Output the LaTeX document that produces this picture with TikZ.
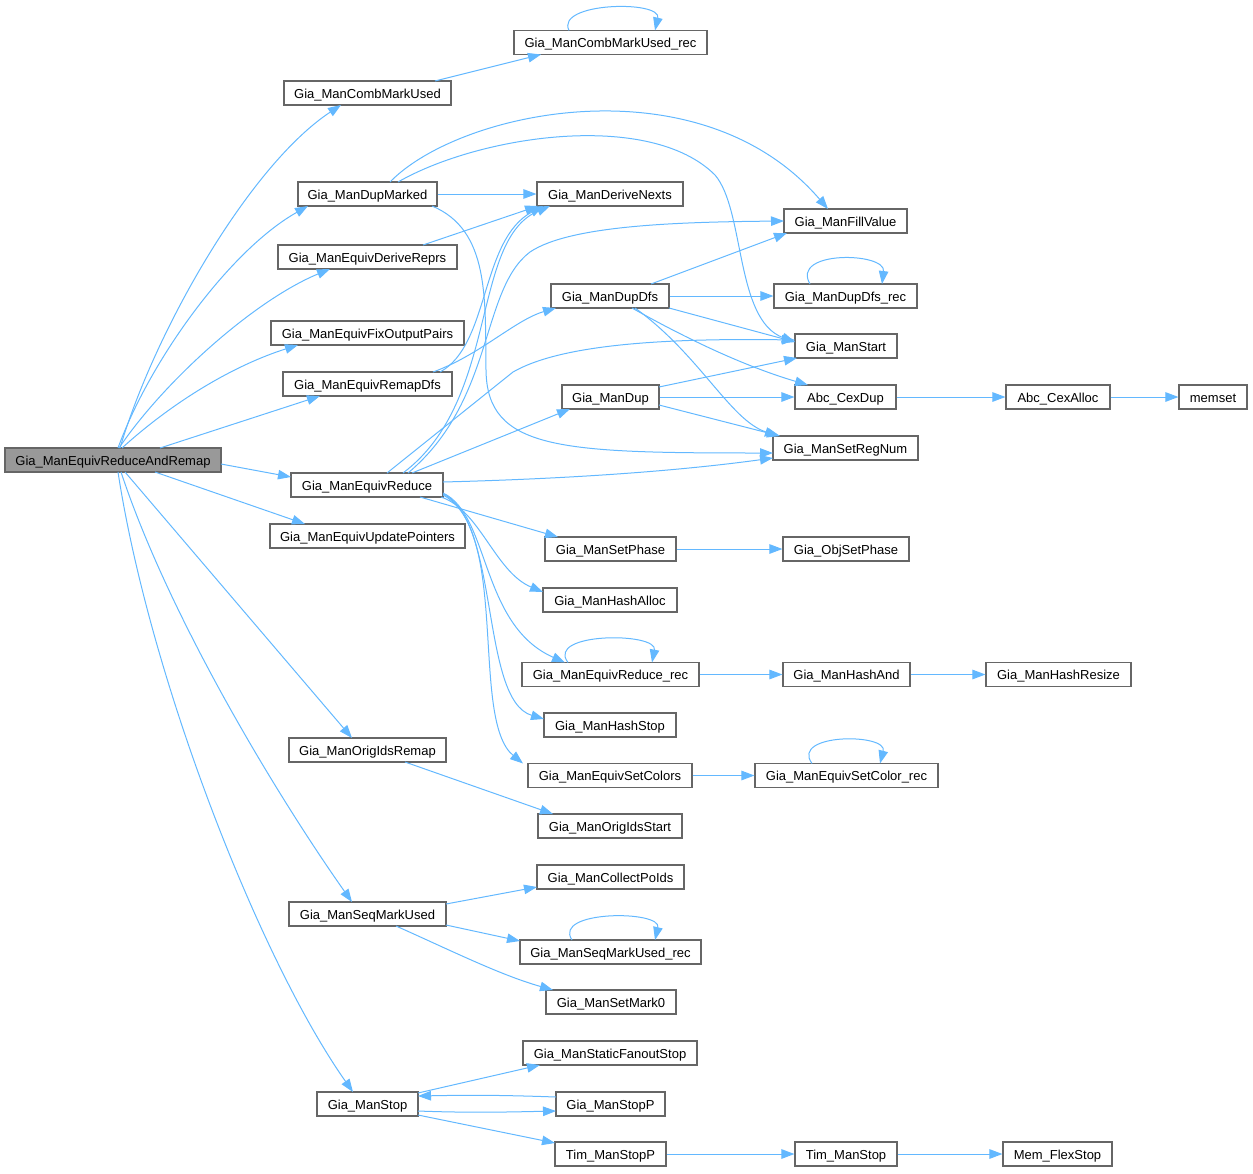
\documentclass[tikz,border=0pt]{standalone}
\usepackage{fontspec}
\setmainfont{Liberation Sans}
\usetikzlibrary{arrows.meta,calc}
\definecolor{eblue}{HTML}{63B8FF}
\definecolor{bord}{HTML}{666666}
\definecolor{rootfill}{HTML}{999999}
\begin{document}
\begin{tikzpicture}[x=1pt,y=-1pt,
  nd/.style={draw=bord,fill=white,line width=1.1pt,inner sep=0pt,minimum height=24pt,text height=10.5pt,text depth=0pt,font=\fontsize{13}{15}\selectfont},
  ln/.style={draw=eblue,line width=1pt,-{Triangle[length=13pt,width=9.5pt]}}]
\useasboundingbox (0,0) rectangle (1253,1173);
\node[nd,fill=rootfill,minimum width=216] (root) at (113,460) {Gia\_ManEquivReduceAndRemap};
\node[nd,minimum width=167] (cmu) at (367.5,93) {Gia\_ManCombMarkUsed};
\node[nd,minimum width=193] (cmurec) at (610.5,42.5) {Gia\_ManCombMarkUsed\_rec};
\node[nd,minimum width=139] (dupm) at (367.5,194) {Gia\_ManDupMarked};
\node[nd,minimum width=146] (dnx) at (610,194) {Gia\_ManDeriveNexts};
\node[nd,minimum width=123] (fill) at (845.5,221) {Gia\_ManFillValue};
\node[nd,minimum width=179] (edr) at (367.5,257) {Gia\_ManEquivDeriveReprs};
\node[nd,minimum width=118] (dupdfs) at (610,296) {Gia\_ManDupDfs};
\node[nd,minimum width=143] (dfsrec) at (845.5,296) {Gia\_ManDupDfs\_rec};
\node[nd,minimum width=193] (fop) at (367.5,333) {Gia\_ManEquivFixOutputPairs};
\node[nd,minimum width=102] (start) at (846,346) {Gia\_ManStart};
\node[nd,minimum width=169] (rdfs) at (367.5,384) {Gia\_ManEquivRemapDfs};
\node[nd,minimum width=97] (dup) at (610.5,397) {Gia\_ManDup};
\node[nd,minimum width=101] (cexdup) at (845.5,397) {Abc\_CexDup};
\node[nd,minimum width=104] (cexalloc) at (1058,397) {Abc\_CexAlloc};
\node[nd,minimum width=68] (memset) at (1213,397) {memset};
\node[nd,minimum width=145] (setreg) at (845.5,448) {Gia\_ManSetRegNum};
\node[nd,minimum width=152] (ered) at (367,485) {Gia\_ManEquivReduce};
\node[nd,minimum width=195] (upd) at (367.5,536) {Gia\_ManEquivUpdatePointers};
\node[nd,minimum width=131] (setph) at (610.5,549) {Gia\_ManSetPhase};
\node[nd,minimum width=126] (objph) at (846,549) {Gia\_ObjSetPhase};
\node[nd,minimum width=134] (halloc) at (610,600) {Gia\_ManHashAlloc};
\node[nd,minimum width=177] (erec) at (610.5,674.5) {Gia\_ManEquivReduce\_rec};
\node[nd,minimum width=127] (hand) at (846.5,674.5) {Gia\_ManHashAnd};
\node[nd,minimum width=145] (hres) at (1058.5,674.5) {Gia\_ManHashResize};
\node[nd,minimum width=132] (hstop) at (610,725) {Gia\_ManHashStop};
\node[nd,minimum width=164] (scol) at (610,775.5) {Gia\_ManEquivSetColors};
\node[nd,minimum width=183] (scolrec) at (846.5,775.5) {Gia\_ManEquivSetColor\_rec};
\node[nd,minimum width=157] (oir) at (367.5,750) {Gia\_ManOrigIdsRemap};
\node[nd,minimum width=144] (ois) at (610,826) {Gia\_ManOrigIdsStart};
\node[nd,minimum width=147] (cpo) at (610.5,877) {Gia\_ManCollectPoIds};
\node[nd,minimum width=157] (smu) at (367.5,914) {Gia\_ManSeqMarkUsed};
\node[nd,minimum width=181] (smurec) at (610.5,952) {Gia\_ManSeqMarkUsed\_rec};
\node[nd,minimum width=130] (mark0) at (611,1002) {Gia\_ManSetMark0};
\node[nd,minimum width=174] (sfs) at (610,1053) {Gia\_ManStaticFanoutStop};
\node[nd,minimum width=101] (stop) at (367.5,1104) {Gia\_ManStop};
\node[nd,minimum width=109] (stopp) at (610.5,1104) {Gia\_ManStopP};
\node[nd,minimum width=111] (timstopp) at (610.5,1154) {Tim\_ManStopP};
\node[nd,minimum width=102] (timstop) at (846,1154) {Tim\_ManStop};
\node[nd,minimum width=109] (memflex) at (1057.5,1154) {Mem\_FlexStop};
% root edges
\path[ln] ($(root)+(7,-12)$) .. controls (155,330) and (250,165) .. ($(cmu)+(-26.5,12)$);
\path[ln] ($(root)+(5,-12)$) .. controls (150,360) and (230,250) .. ($(dupm)+(-59.5,12)$);
\path[ln] ($(root)+(6,-12)$) .. controls (165,380) and (255,300) .. ($(edr)+(-37.5,12)$);
\path[ln] ($(root)+(9,-12)$) .. controls (175,400) and (235,365) .. ($(fop)+(-69.5,12)$);
\path[ln] ($(root)+(47,-12)$) -- ($(rdfs)+(-47.5,12)$);
\path[ln] ($(root)+(108,4)$) -- ($(ered)+(-76,-8)$);
\path[ln] ($(root)+(42,12)$) -- ($(upd)+(-62.5,-12)$);
\path[ln] ($(root)+(12,12)$) -- ($(oir)+(-15.5,-12)$);
\path[ln] ($(root)+(8,12)$) .. controls (170,620) and (280,800) .. ($(smu)+(-15.5,-12)$);
\path[ln] ($(root)+(5,12)$) .. controls (150,680) and (260,960) .. ($(stop)+(-14.5,-12)$);
% cmu
\path[ln] ($(cmu)+(67.5,-12)$) -- ($(cmurec)+(-69.5,12)$);
\path[ln] ($(cmurec)+(-41.5,-12)$) .. controls (555,2) and (662,0) .. ($(cmurec)+(44.5,-12)$);
% dupm
\path[ln] (dupm) -- (dnx);
\path[ln] ($(dupm)+(22.5,-12)$) .. controls (460,110) and (700,60) .. ($(fill)+(-17.5,-12)$);
\path[ln] ($(dupm)+(30.5,-12)$) .. controls (480,135) and (650,110) .. (715,175) .. controls (745,210) and (735,320) .. ($(start)+(-51,-4)$);
\path[ln] ($(dupm)+(64.5,12)$) .. controls (490,230) and (485,300) .. (486,370) .. controls (487,450) and (560,453) .. ($(setreg)+(-72.5,5)$);
% edr, rdfs
\path[ln] ($(edr)+(55.5,-12)$) -- ($(dnx)+(-72,12)$);
\path[ln] ($(rdfs)+(72.5,-12)$) .. controls (490,345) and (480,240) .. ($(dnx)+(-67,12)$);
\path[ln] ($(rdfs)+(65.5,-12)$) .. controls (480,355) and (515,320) .. ($(dupdfs)+(-54,12)$);
% ered
\path[ln] ($(ered)+(20,-12)$) -- (513,372) .. controls (560,345) and (660,338) .. ($(start)+(-51,-6)$);
\path[ln] ($(ered)+(36,-12)$) .. controls (500,400) and (470,240) .. ($(dnx)+(-60,12)$);
\path[ln] ($(ered)+(41,-12)$) .. controls (495,400) and (480,290) .. (530,252) .. controls (570,225) and (680,222) .. ($(fill)+(-61.5,0)$);
\path[ln] ($(ered)+(45,-12)$) -- ($(dup)+(-40.5,12)$);
\path[ln] ($(ered)+(76,-3)$) .. controls (600,478) and (700,468) .. ($(setreg)+(-72.5,10)$);
\path[ln] ($(ered)+(53,12)$) -- ($(setph)+(-52.5,-12)$);
\path[ln] ($(ered)+(74,12)$) .. controls (480,510) and (495,572) .. ($(halloc)+(-67,-8)$);
\path[ln] ($(ered)+(76,8)$) .. controls (490,515) and (480,625) .. ($(erec)+(-45.5,-12)$);
\path[ln] ($(ered)+(76,9)$) .. controls (500,520) and (480,700) .. ($(hstop)+(-66,-6)$);
\path[ln] ($(ered)+(76,10)$) .. controls (510,530) and (470,720) .. ($(scol)+(-87,-12)$);
% dupdfs
\path[ln] ($(dupdfs)+(41,-12)$) -- ($(fill)+(-58.5,12)$);
\path[ln] (dupdfs) -- (dfsrec);
\path[ln] ($(dfsrec)+(-35.5,-12)$) .. controls (790,250) and (886,252) .. ($(dfsrec)+(36.5,-12)$);
\path[ln] ($(dupdfs)+(59,12)$) -- ($(start)+(-51,-4)$);
\path[ln] ($(dupdfs)+(22,12)$) .. controls (680,335) and (740,365) .. ($(cexdup)+(-37.5,-12)$);
\path[ln] ($(dupdfs)+(25,12)$) .. controls (700,355) and (730,420) .. ($(setreg)+(-67.5,-12)$);
% dup
\path[ln] ($(dup)+(48.5,-10)$) -- ($(start)+(-49,12)$);
\path[ln] (dup) -- (cexdup);
\path[ln] ($(dup)+(48.5,8)$) -- ($(setreg)+(-65.5,-12)$);
\path[ln] (cexdup) -- (cexalloc);
\path[ln] (cexalloc) -- (memset);
% lower
\path[ln] (setph) -- (objph);
\path[ln] (erec) -- (hand);
\path[ln] (hand) -- (hres);
\path[ln] ($(erec)+(-42.5,-12)$) .. controls (545,632) and (658,632) .. ($(erec)+(41.5,-12)$);
\path[ln] (scol) -- (scolrec);
\path[ln] ($(scolrec)+(-34.5,-12)$) .. controls (790,733) and (888,733) .. ($(scolrec)+(33.5,-12)$);
\path[ln] ($(oir)+(37.5,12)$) -- ($(ois)+(-57,-12)$);
\path[ln] ($(smu)+(78.5,-10)$) -- ($(cpo)+(-73.5,10)$);
\path[ln] ($(smu)+(78.5,11)$) -- ($(smurec)+(-90.5,-11)$);
\path[ln] ($(smurec)+(-38.5,-12)$) .. controls (552,910) and (662,910) .. ($(smurec)+(44.5,-12)$);
\path[ln] ($(smu)+(28.5,12)$) .. controls (450,950) and (500,975) .. ($(mark0)+(-58,-12)$);
\path[ln] ($(stop)+(50.5,-11)$) -- ($(sfs)+(-70,12)$);
\path[ln] ($(stopp)+(-54.5,-7)$) .. controls (500,1095) and (470,1095) .. ($(stop)+(50.5,-8)$);
\path[ln] ($(stop)+(50.5,7)$) .. controls (470,1113) and (510,1112) .. ($(stopp)+(-54.5,7)$);
\path[ln] ($(stop)+(50.5,11)$) -- ($(timstopp)+(-55.5,-11)$);
\path[ln] (timstopp) -- (timstop);
\path[ln] (timstop) -- (memflex);
\end{tikzpicture}
\end{document}
